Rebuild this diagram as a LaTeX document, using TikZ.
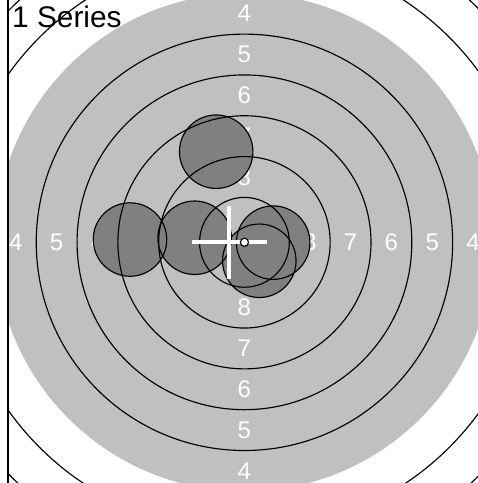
\documentclass[tikz,border=0pt]{standalone}
\usepackage{fontspec}
\setmainfont{Liberation Sans}
\usepackage{tikz}
\definecolor{tgtgray}{RGB}{192,192,192}
\definecolor{shotgray}{RGB}{128,128,128}

\begin{document}
\begin{tikzpicture}[x=0.5cm,y=0.5cm,
  ringline/.style={black,line width=1pt},
  ringlabel/.style={white,inner sep=0pt,font=\fontsize{21}{21}\selectfont}]
  \useasboundingbox (-14.97,-14.74) rectangle (14.30,14.84);
  \begin{scope}
    \clip (-14.48,-14.74) rectangle (14.30,14.84);
    \fill[tgtgray] (0,0) circle (15.25);
    \foreach \k in {4,...,8}{
      \pgfmathsetmacro\m{0.25+(10-\k)*2.5-1.25}
      \node[ringlabel] (top\k) at (0,\m) {\k};
      \node[ringlabel] (bot\k) at (0,-\m) {\k};
      \node[ringlabel] (lft\k) at (-\m,0) {\k};
      \node[ringlabel] (rgt\k) at (\m,0) {\k};
    }
    \foreach \sx/\sy in {-7.01/0.17,-3.05/0.28,-1.73/5.55,1.76/-0.02,0.91/-1.13}
      \fill[shotgray] (\sx,\sy) circle (2.25);
    \foreach \r in {2.75,5.25,7.75,10.25,12.75,17.75,20.25,22.75}
      \draw[ringline] (0,0) circle (\r);
    \foreach \sx/\sy in {-7.01/0.17,-3.05/0.28,-1.73/5.55,1.76/-0.02,0.91/-1.13}
      \draw[ringline] (\sx,\sy) circle (2.25);
    \coordinate (mid) at (-0.93,0);
    \draw[white,line width=3.5pt] ([xshift=-1.15cm]mid) -- ([xshift=1.15cm]mid);
    \draw[white,line width=3.5pt] ([yshift=-1.12cm]mid) -- ([yshift=1.12cm]mid);
    \draw[ringline,fill=white] (0,0) circle (0.25);
  \end{scope}
  \draw[line width=1.2pt] (-14.48,-14.74) -- (-14.48,14.84);
  \node[anchor=base west,inner sep=0pt,font=\fontsize{26}{26}\selectfont] (title) at (-14.24,13.18) {1 Series};
\end{tikzpicture}
\end{document}
